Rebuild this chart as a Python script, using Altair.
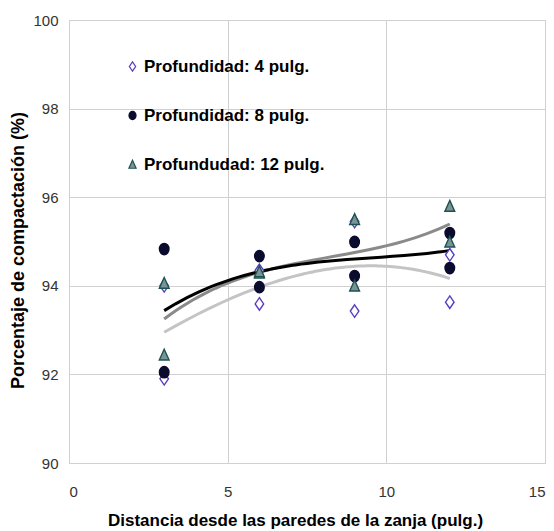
import altair as alt
import pandas as pd

# ---- data ----
series_names = ["Profundidad: 4 pulg.", "Profundidad: 8 pulg.", "Profundudad: 12 pulg."]

x4 = [3, 3, 6, 6, 9, 9, 12, 12]
y4 = [91.9, 94.0, 93.59, 94.35, 93.43, 95.45, 93.63, 94.7]

x8 = [3, 3, 6, 6, 9, 9, 12, 12]
y8 = [94.83, 92.05, 94.67, 93.97, 94.99, 94.22, 95.19, 94.4]

x12 = [3, 3, 6, 6, 9, 9, 12, 12]
y12 = [94.06, 92.44, 94.29, 94.32, 95.5, 94.0, 95.8, 94.99]

x_ticks = [0, 5, 10, 15]
y_ticks = [90, 92, 94, 96, 98, 100]

rows = []
for name, xs, ys in zip(series_names, [x4, x8, x12], [y4, y8, y12]):
    for a, b in zip(xs, ys):
        rows.append({"serie": name, "x": a, "y": b})
df = pd.DataFrame(rows)

FONT = "Liberation Sans"

diamond = "M0,-1.1L0.75,0L0,1.1L-0.75,0Z"
ellipse = "M0,-1A0.84,1 0 1,1 0,1A0.84,1 0 1,1 0,-1Z"
triangle = "M0,-1L0.86,0.9L-0.86,0.9Z"

xscale = alt.Scale(domain=[0, 15], nice=False, zero=False)
yscale = alt.Scale(domain=[90, 100], nice=False, zero=False)

xaxis = alt.Axis(values=x_ticks, ticks=False, labelPadding=21, labelFontSize=15,
                 labelFont=FONT, labelColor="#333333", domain=False,
                 title="Distancia desde las paredes de la zanja (pulg.)",
                 titleFont=FONT, titleFontSize=17, titleFontWeight="bold",
                 titleColor="#000000", titleX=226, titleY=57,
                 titleBaseline="middle", titleAlign="center",
                 gridColor="#d0d0d0", gridWidth=1)
yaxis = alt.Axis(values=y_ticks, ticks=False, labelPadding=11, labelFontSize=15,
                 labelFont=FONT, labelColor="#333333", domain=False,
                 title="Porcentaje de compactación (%)",
                 titleFont=FONT, titleFontSize=18, titleFontWeight="bold",
                 titleColor="#000000", titleX=-51, titleY=230, titleAngle=-90,
                 titleBaseline="middle", titleAlign="center",
                 gridColor="#d0d0d0", gridWidth=1)

base = alt.Chart(df)

line_colors = {series_names[2]: "#8a8a8a", series_names[0]: "#c4c4c4", series_names[1]: "#000000"}
line_layers = []
for name in [series_names[2], series_names[0], series_names[1]]:
    ln = (
        base.transform_filter(alt.datum.serie == name)
        .transform_regression("x", "y", method="poly", order=3)
        .mark_line(color=line_colors[name], strokeWidth=3)
        .encode(x=alt.X("x:Q", scale=xscale, axis=xaxis),
                y=alt.Y("y:Q", scale=yscale, axis=yaxis))
    )
    line_layers.append(ln)

legend = alt.Legend(title=None, orient="none", legendX=55, legendY=38,
                    labelFont=FONT, labelFontSize=17, labelFontWeight="bold",
                    labelColor="#000000", labelOffset=3, rowPadding=31,
                    labelLimit=400, padding=0, symbolSize=70,
                    symbolStrokeWidth=1.2)

points = base.mark_point(size=130, filled=False, opacity=1, strokeWidth=1.4).encode(
    x=alt.X("x:Q", scale=xscale, axis=xaxis),
    y=alt.Y("y:Q", scale=yscale, axis=yaxis),
    shape=alt.Shape("serie:N", scale=alt.Scale(domain=series_names, range=[diamond, ellipse, triangle]),
                    legend=legend),
    fill=alt.Fill("serie:N", scale=alt.Scale(domain=series_names, range=["#ffffff", "#0b0b2e", "#7a9494"]),
                  legend=legend),
    stroke=alt.Stroke("serie:N", scale=alt.Scale(domain=series_names, range=["#5a3cc0", "#0b0b2e", "#1e5252"]),
                      legend=legend),
    order=alt.Order("serie:N"),
)

chart = (
    alt.layer(*line_layers, points)
    .properties(width=476, height=443,
                padding={"left": 69, "top": 20, "right": 9, "bottom": 68},
                autosize=alt.AutoSizeParams(type="none"))
    .configure_view(stroke="#1a1a1a", strokeWidth=1.6, fill="white")
    .configure(background="white")
)

chart.save("out.html", embed_options={"renderer": "svg", "actions": False})
